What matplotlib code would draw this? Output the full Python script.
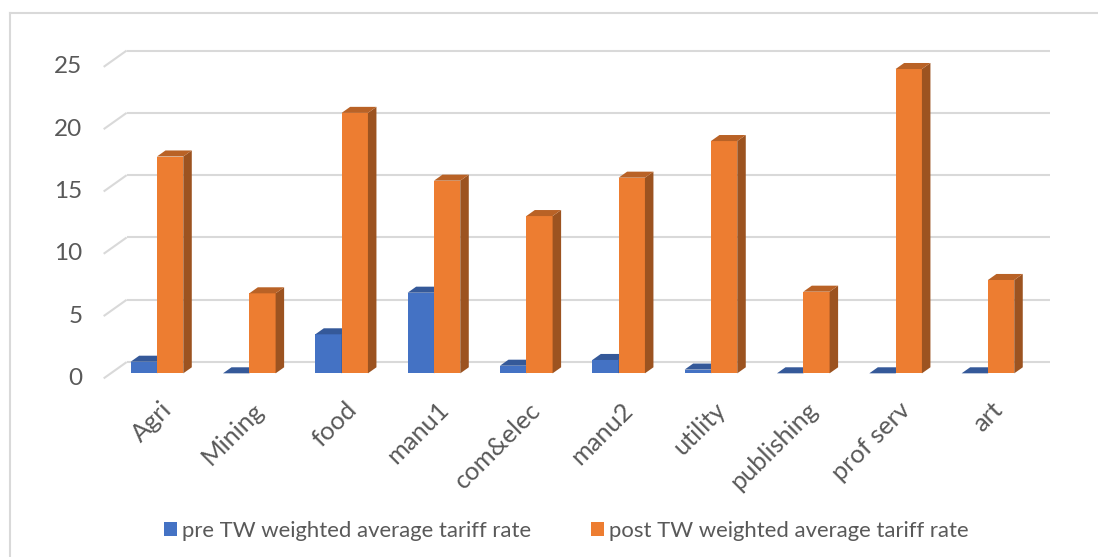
import matplotlib
matplotlib.use("Agg")
import matplotlib.pyplot as plt
from matplotlib.patches import Polygon, Patch
from matplotlib.lines import Line2D
from matplotlib.colors import to_rgb
import numpy as np

categories = ["Agri", "Mining", "food", "manu1", "com&elec",
              "manu2", "utility", "publishing", "prof serv", "art"]
pre_tw = [0.93, 0.0, 3.13, 6.47, 0.61, 1.07, 0.30, 0.0, 0.0, 0.0]
post_tw = [17.4, 6.42, 20.9, 15.46, 12.62, 15.7, 18.64, 6.55, 24.42, 7.49]
series_names = ["pre TW weighted average tariff rate",
                "post TW weighted average tariff rate"]
series_colors = ["#4472C4", "#ED7D31"]
y_ticks = [0, 5, 10, 15, 20, 25]

FONT = ["Lato", "DejaVu Sans"]
GRID = "#D9D9D9"
TEXT = "#595959"

W, H = 1098, 557
fig = plt.figure(figsize=(W / 100, H / 100), dpi=100)
ax = fig.add_axes([0, 0, 1, 1])
ax.set_xlim(-1.700, 10.192)
ax.set_ylim(-14.74, 29.96)
ax.axis("off")

# oblique projection: depth vector of the floor in (category, value) units
DEPTH = np.array([0.249, 1.31])
FRONT = -0.31 * DEPTH      # front edge of the floor relative to the bar plane
BACK = 0.69 * DEPTH        # back wall relative to the bar plane
BAR_D = 0.37 * DEPTH       # depth of each column
BAR_W = 0.285
left_edge, right_edge = -0.5, len(categories) - 0.5


def fit_size(text, target_px):
    r = fig.canvas.get_renderer()
    t = fig.text(0, 0, text, fontsize=10, family=FONT)
    w = t.get_window_extent(r).width
    t.remove()
    return 10 * target_px / w


fs = fit_size(series_names[0], 349)
fs_px = fs * 100 / 72
fs_tick = fs * 1.1
fs_cat = fs * 1.15

# back wall gridlines and the side-wall diagonals
for v in y_ticks:
    ax.plot([left_edge + BACK[0], right_edge + BACK[0]],
            [v + BACK[1], v + BACK[1]], color=GRID, lw=1.5, zorder=1,
            solid_capstyle="butt")
    ax.plot([left_edge + FRONT[0], left_edge + BACK[0]],
            [v + FRONT[1], v + BACK[1]], color=GRID, lw=1.5, zorder=1,
            solid_capstyle="butt")
    ax.text(left_edge + FRONT[0] - 0.23, v + FRONT[1], str(v),
            ha="right", va="center", fontsize=fs_tick, color=TEXT,
            family=FONT)


def shade(c, f):
    return tuple(np.array(to_rgb(c)) * f)


# 3D-look columns: front face, top and right side
z = 2
for i in range(len(categories)):
    for s, vals in enumerate([pre_tw, post_tw]):
        v = vals[i]
        col = series_colors[s]
        x0 = i - BAR_W + s * BAR_W
        x1 = x0 + BAR_W
        ax.bar(x0, v, width=BAR_W, align="edge", color=col, zorder=z,
               linewidth=0)
        top = [(x0, v), (x1, v), (x1 + BAR_D[0], v + BAR_D[1]),
               (x0 + BAR_D[0], v + BAR_D[1])]
        side = [(x1, 0), (x1, v), (x1 + BAR_D[0], v + BAR_D[1]),
                (x1 + BAR_D[0], BAR_D[1])]
        ax.add_patch(Polygon(side, closed=True, facecolor=shade(col, 0.66),
                             edgecolor="none", zorder=z))
        ax.add_patch(Polygon(top, closed=True, facecolor=shade(col, 0.78),
                             edgecolor="none", zorder=z))
        z += 1

# category labels
for i, name in enumerate(categories):
    ax.text(i + 0.03, -1.98, name, rotation=45, ha="right", va="top",
            rotation_mode="anchor", fontsize=fs_cat, color=TEXT, family=FONT)

# chart frame
fig.add_artist(Line2D([10 / W, 10 / W], [0, 1 - 13 / H],
                      transform=fig.transFigure, color=GRID, lw=1.5))
fig.add_artist(Line2D([10 / W, 1], [1 - 13 / H, 1 - 13 / H],
                      transform=fig.transFigure, color=GRID, lw=1.5))

handles = [Patch(facecolor=c, edgecolor="none") for c in series_colors]
leg = fig.legend(handles, series_names, loc="center", ncol=2,
                 bbox_to_anchor=(566 / W, 1 - 531 / H), frameon=False,
                 prop={"family": FONT, "size": fs},
                 handlelength=13 / fs_px, handleheight=13 / fs_px,
                 handletextpad=5 / fs_px, columnspacing=60 / fs_px,
                 borderpad=0, borderaxespad=0)
for t in leg.get_texts():
    t.set_color(TEXT)

fig.savefig("out.png", dpi=100)
